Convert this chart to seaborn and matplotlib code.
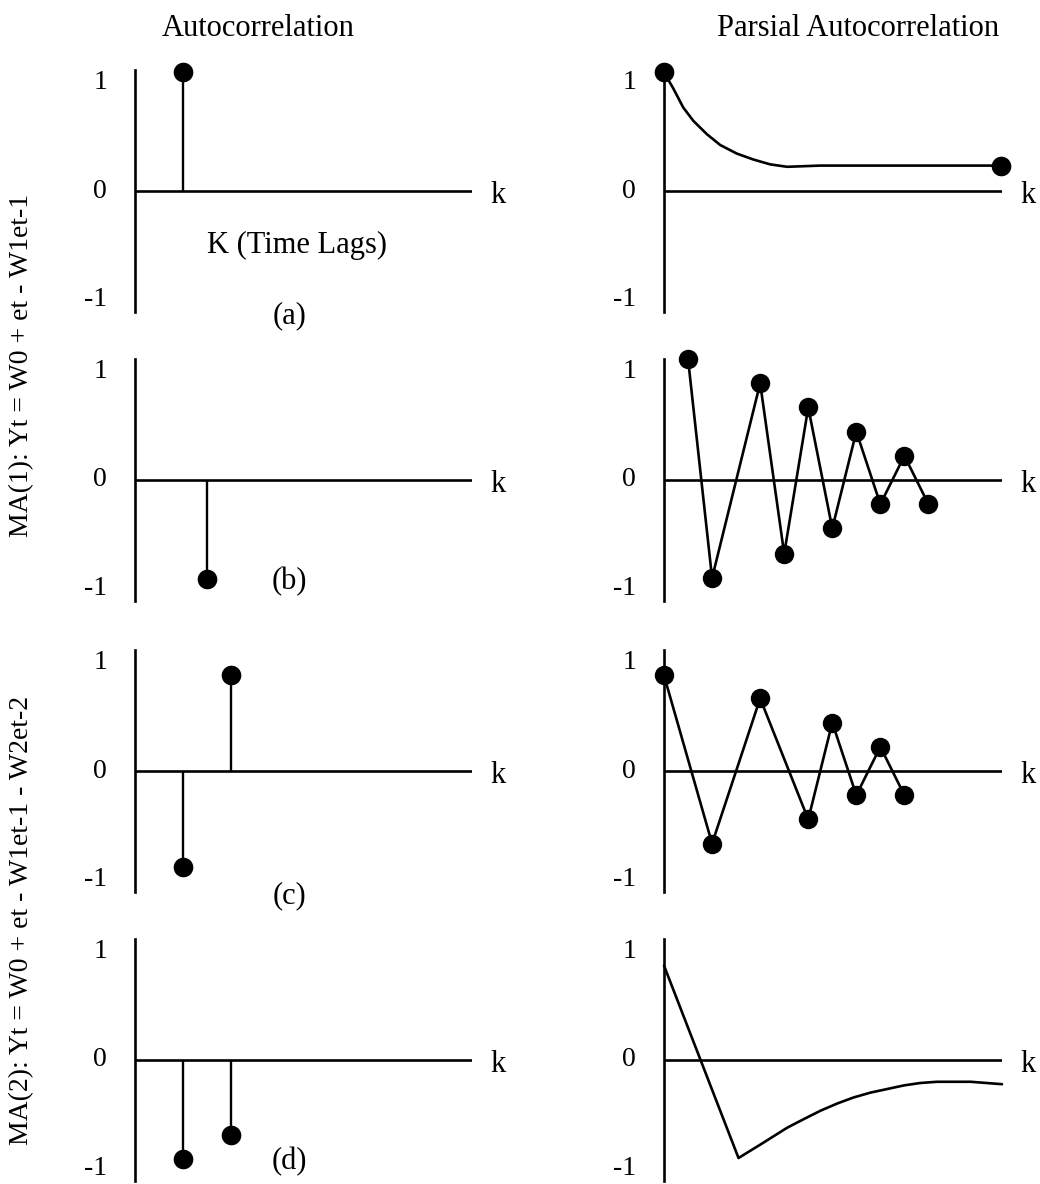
"""
ACF / PACF patterns for MA(1) and MA(2) processes.

Four rows (a)-(d): left column = autocorrelation spikes,
right column = partial autocorrelation.  Saved to out.png.
"""

import matplotlib

matplotlib.use("Agg")

import matplotlib.pyplot as plt
import pandas as pd
import seaborn as sns

# --- labels -----------------------------------------------------------------
COL_TITLES = ["Autocorrelation", "Parsial Autocorrelation"]
ROW_LABELS = [
    "MA(1): Yt = W0 + et - W1et-1",
    "MA(2): Yt = W0 + et - W1et-1 - W2et-2",
]
PANEL_TAGS = ["(a)", "(b)", "(c)", "(d)"]
AXIS_NOTE = "K (Time Lags)"
Y_TICKS = [1, 0, -1]
Y_TICK_LABELS = ["1", "0", "-1"]

# --- autocorrelation spikes (one list per row) ------------------------------
ACF_LAGS = [[1.0], [1.5], [1.0, 2.0], [1.0, 2.0]]
ACF_VALUES = [[0.98], [-0.82], [-0.79, 0.79], [-0.82, -0.62]]

# --- partial autocorrelation ------------------------------------------------
# (a) smooth decay, dots only at both ends
PACF_A_LAG = [0.0, 0.19, 0.40, 0.61, 0.89, 1.17, 1.51, 1.86, 2.21, 2.56, 3.25, 7.0]
PACF_A_VAL = [0.98, 0.85, 0.69, 0.58, 0.47, 0.38, 0.31, 0.26, 0.22, 0.20, 0.21, 0.21]
PACF_A_DOT_LAG = [0.0, 7.0]
PACF_A_DOT_VAL = [0.98, 0.21]

# (b) damped oscillation
PACF_B_LAG = [0.5, 1.0, 2.0, 2.5, 3.0, 3.5, 4.0, 4.5, 5.0, 5.5]
PACF_B_VAL = [1.0, -0.81, 0.80, -0.61, 0.60, -0.40, 0.40, -0.20, 0.20, -0.20]

# (c) damped oscillation
PACF_C_LAG = [0.0, 1.0, 2.0, 3.0, 3.5, 4.0, 4.5, 5.0]
PACF_C_VAL = [0.79, -0.60, 0.60, -0.40, 0.40, -0.20, 0.20, -0.20]

# (d) drop then slow recovery, no dots
PACF_D_LAG = [0.0, 1.55, 2.0, 2.56, 2.90, 3.25, 3.60, 3.94, 4.29, 4.64,
              4.99, 5.33, 5.68, 6.03, 6.38, 7.03]
PACF_D_VAL = [0.78, -0.81, -0.70, -0.56, -0.49, -0.42, -0.36, -0.31, -0.27,
              -0.24, -0.21, -0.19, -0.18, -0.18, -0.18, -0.20]

PACF_ROWS = [
    (PACF_A_LAG, PACF_A_VAL, False),
    (PACF_B_LAG, PACF_B_VAL, True),
    (PACF_C_LAG, PACF_C_VAL, True),
    (PACF_D_LAG, PACF_D_VAL, False),
]

sns.set_theme(style="white")
plt.rcParams["font.family"] = ["Liberation Serif", "DejaVu Serif"]
plt.rcParams["text.color"] = "black"
plt.rcParams["ytick.color"] = "black"
plt.rcParams["ytick.labelcolor"] = "black"

W, H = 1040, 1184
fig = plt.figure(figsize=(W / 100, H / 100), dpi=100)

ZEROS = [191, 480, 771, 1060]   # pixel row of each zero line
HALF = 121                      # pixels from 0 to +/-1
COL_X = [(135, 337), (664, 338)]
XMAX = 7.03
TAG_Y = [-1.03, -0.84, -1.03, -0.84]


def _style(ax):
    ax.set_xlim(0, XMAX)
    ax.set_ylim(-1, 1)
    ax.set_facecolor("none")
    for side in ("top", "right", "bottom"):
        ax.spines[side].set_visible(False)
    ax.spines["left"].set_color("black")
    ax.spines["left"].set_linewidth(1.9)
    ax.axhline(0, color="black", lw=1.9, zorder=1)
    ax.set_xticks([])
    ax.set_yticks(Y_TICKS)
    ax.set_yticklabels(Y_TICK_LABELS, fontsize=20, color="black")
    for lab, va in zip(ax.get_yticklabels(), ["top", "center", "bottom"]):
        lab.set_verticalalignment(va)
    ax.tick_params(axis="y", left=False, pad=14)
    ax.set_xlabel("")
    ax.set_ylabel("")
    ax.text(7.58, -0.04, "k", fontsize=22, ha="center", va="center",
            color="black", clip_on=False)


for r, z in enumerate(ZEROS):
    bottom = 1 - (z + HALF) / H
    height = 2 * HALF / H
    axl = fig.add_axes([COL_X[0][0] / W, bottom, COL_X[0][1] / W, height])
    axr = fig.add_axes([COL_X[1][0] / W, bottom, COL_X[1][1] / W, height])

    # left: autocorrelation spikes
    _style(axl)
    axl.vlines(ACF_LAGS[r], 0, ACF_VALUES[r], color="black", lw=1.7, zorder=2)
    sns.scatterplot(
        x=ACF_LAGS[r], y=ACF_VALUES[r], ax=axl, color="black",
        s=200, linewidth=0, zorder=3, clip_on=False,
    )
    axl.text(3.23, TAG_Y[r], PANEL_TAGS[r], fontsize=22, ha="center",
             va="center", color="black")
    if r == 0:
        axl.text(3.37, -0.45, AXIS_NOTE, fontsize=22, ha="center",
                 va="center", color="black")

    # right: partial autocorrelation
    _style(axr)
    lags, vals, dots = PACF_ROWS[r]
    df = pd.DataFrame({"lag": lags, "value": vals})
    sns.lineplot(
        data=df, x="lag", y="value", ax=axr, color="black", lw=1.9,
        marker="o" if dots else None, markersize=14, markeredgewidth=0,
        sort=False, zorder=2, clip_on=False,
    )
    if r == 0:
        sns.scatterplot(
            x=PACF_A_DOT_LAG, y=PACF_A_DOT_VAL, ax=axr, color="black",
            s=200, linewidth=0, zorder=3, clip_on=False,
        )
    axr.set_xlabel("")
    axr.set_ylabel("")

# column titles and row labels
fig.text(258 / W, 1 - 28 / H, COL_TITLES[0], fontsize=22, ha="center", va="center")
fig.text(858 / W, 1 - 28 / H, COL_TITLES[1], fontsize=22, ha="center", va="center")
fig.text(22 / W, 1 - 365 / H, ROW_LABELS[0], fontsize=20, rotation=90,
         ha="center", va="center")
fig.text(22 / W, 1 - 920 / H, ROW_LABELS[1], fontsize=20, rotation=90,
         ha="center", va="center")

fig.savefig("out.png", dpi=100, facecolor="white")
plt.close(fig)
